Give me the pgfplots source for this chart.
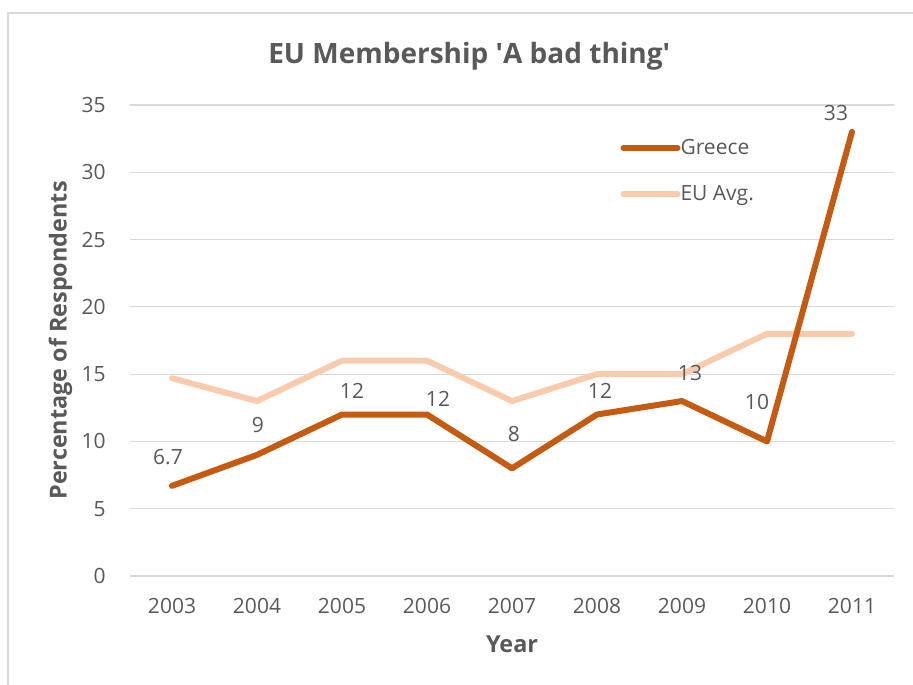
\documentclass[border=0pt]{standalone}
\usepackage{pgfplots}
\pgfplotsset{compat=1.18}
\usepackage{fontspec}
\setmainfont{Open Sans}
\definecolor{txt}{HTML}{595959}
\definecolor{gridc}{HTML}{D9D9D9}
\definecolor{greece}{HTML}{C55A11}
\definecolor{euavg}{HTML}{F8CBAD}
\begin{document}
\begin{tikzpicture}[x=1pt,y=1pt]
\path[use as bounding box] (0,0) rectangle (456.5,342);
\draw[gridc, line width=0.75pt] (4,-5) -- (4,335.5) -- (470,335.5);
\node[anchor=base, text=txt, font=\fontsize{14}{16}\selectfont\bfseries] at (234.6,310.3) {EU Membership \textquotesingle A bad thing\textquotesingle};
\node[anchor=base, rotate=90, text=txt, font=\fontsize{11.7}{14}\selectfont\bfseries] at (33.35,171.75) {Percentage of Respondents};
\node[anchor=base, text=txt, font=\fontsize{11.7}{14}\selectfont\bfseries] at (256,16) {Year};
\begin{axis}[at={(64.75pt,54pt)}, anchor=south west,
  width=382.5pt, height=235.5pt, scale only axis,
  xmin=-0.5, xmax=8.5, ymin=0, ymax=35,
  ytick={0,5,...,35}, xtick={0,...,8},
  xticklabels={2003,2004,2005,2006,2007,2008,2009,2010,2011},
  axis line style={draw=none}, major tick length=0pt,
  ymajorgrids, grid style={gridc, line width=0.6pt},
  tick label style={text=txt, font=\fontsize{10.5}{12}\selectfont, inner sep=0pt},
  /pgf/number format/assume math mode=true,
  yticklabel style={anchor=east}, yticklabel shift={11.75pt},
  xticklabel style={anchor=north}, xticklabel shift={10.8pt},
  clip=false,
  reverse legend,
  legend style={draw=none, fill=none, at={(0.6335,0.937)}, anchor=north west,
    font=\fontsize{10.5}{12}\selectfont, text=txt,
    nodes={inner sep=0pt, text height=7.5pt, text depth=1.5pt},
    row sep=14pt, column sep=0pt},
  legend cell align=left,
  legend image code/.code={\draw[#1, line cap=round] (0pt,0pt) -- (27pt,0pt);},
]
\addplot[euavg, line width=3pt, line cap=round, line join=round] coordinates {
(0,14.7) (1,13) (2,16) (3,16) (4,13) (5,15) (6,15) (7,18) (8,18)};
\addlegendentry{EU Avg.}
\addplot[greece, line width=3pt, line cap=round, line join=round] coordinates {
(0,6.7) (1,9) (2,12) (3,12) (4,8) (5,12) (6,13) (7,10) (8,33)};
\addlegendentry{Greece}
\begin{scope}[every node/.style={text=txt, font=\fontsize{10.5}{12}\selectfont, inner sep=0pt, anchor=center}]
\node at (axis cs:0,6.7) [xshift=-2pt, yshift=14.4pt] {6.7};
\node at (axis cs:1,9) [xshift=0.5pt, yshift=15pt] {9};
\node at (axis cs:2,12) [xshift=5pt, yshift=11.75pt] {12};
\node at (axis cs:3,12) [xshift=5.5pt, yshift=7.75pt] {12};
\node at (axis cs:4,8) [xshift=1pt, yshift=17.4pt] {8};
\node at (axis cs:5,12) [xshift=1.5pt, yshift=11.75pt] {12};
\node at (axis cs:6,13) [xshift=4pt, yshift=14.25pt] {13};
\node at (axis cs:7,10) [xshift=-5pt, yshift=19.5pt] {10};
\node at (axis cs:8,33) [xshift=-8pt, yshift=9.5pt] {33};
\end{scope}
\end{axis}
\end{tikzpicture}
\end{document}
